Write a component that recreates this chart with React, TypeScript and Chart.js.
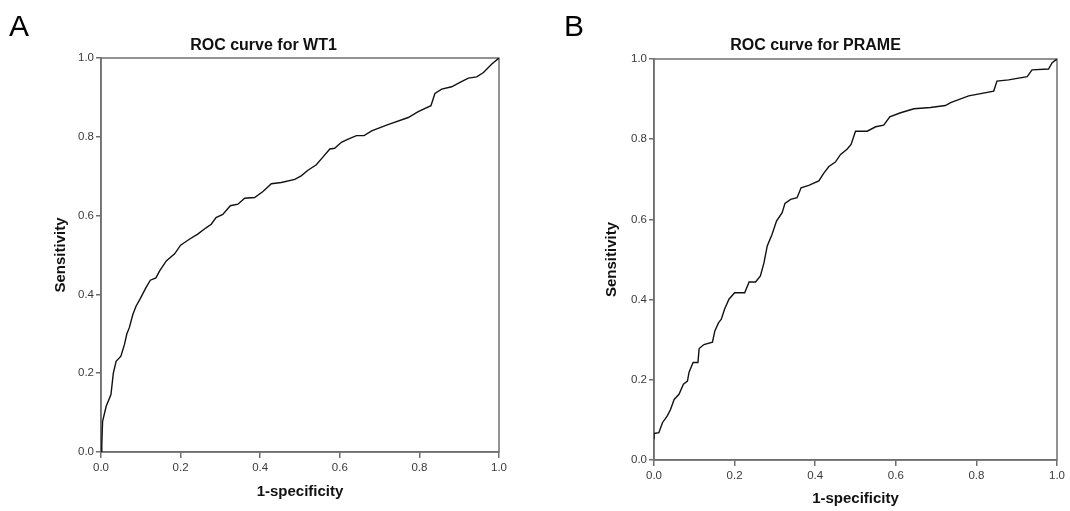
import React, { useEffect, useRef } from "react";
import { Chart, registerables } from "chart.js";

Chart.register(...registerables);

// Panel A: ROC curve for WT1 (1-specificity, sensitivity)
const fprA = [
  0, 0.002, 0.004, 0.013, 0.025, 0.031, 0.038, 0.05, 0.059, 0.065, 0.071, 0.08, 0.088, 0.099,
  0.113, 0.124, 0.138, 0.147, 0.164, 0.185, 0.2, 0.222, 0.243, 0.264, 0.277, 0.289, 0.306,
  0.325, 0.344, 0.361, 0.386, 0.407, 0.428, 0.453, 0.487, 0.503, 0.52, 0.541, 0.558, 0.575,
  0.587, 0.604, 0.621, 0.642, 0.661, 0.68, 0.721, 0.772, 0.797, 0.829, 0.839, 0.856, 0.881,
  0.902, 0.923, 0.944, 0.961, 0.982, 1,
];
const tprA = [
  0, 0.02, 0.078, 0.116, 0.146, 0.2, 0.23, 0.243, 0.273, 0.3, 0.315, 0.349, 0.37, 0.39,
  0.417, 0.436, 0.442, 0.459, 0.485, 0.503, 0.525, 0.54, 0.553, 0.569, 0.578, 0.595, 0.603,
  0.625, 0.629, 0.644, 0.646, 0.661, 0.681, 0.684, 0.692, 0.701, 0.715, 0.729, 0.749, 0.769,
  0.771, 0.786, 0.794, 0.803, 0.803, 0.815, 0.831, 0.849, 0.864, 0.879, 0.91, 0.921, 0.927,
  0.938, 0.949, 0.952, 0.963, 0.985, 1,
];

// Panel B: ROC curve for PRAME
const fprB = [
  0, 0, 0.012, 0.021, 0.033, 0.041, 0.05, 0.062, 0.073, 0.083, 0.087, 0.097, 0.109, 0.112,
  0.124, 0.145, 0.151, 0.16, 0.167, 0.175, 0.186, 0.2, 0.225, 0.236, 0.252, 0.264, 0.273,
  0.281, 0.293, 0.304, 0.318, 0.325, 0.339, 0.355, 0.365, 0.384, 0.409, 0.421, 0.434, 0.45,
  0.463, 0.479, 0.489, 0.5, 0.529, 0.55, 0.57, 0.585, 0.612, 0.645, 0.686, 0.723, 0.736,
  0.781, 0.843, 0.851, 0.88, 0.926, 0.938, 0.979, 0.988, 1,
];
const tprB = [
  0.052, 0.066, 0.068, 0.093, 0.11, 0.126, 0.151, 0.164, 0.189, 0.197, 0.219, 0.243, 0.243, 0.278,
  0.288, 0.294, 0.322, 0.342, 0.351, 0.376, 0.401, 0.417, 0.417, 0.444, 0.444, 0.459, 0.492,
  0.534, 0.563, 0.596, 0.617, 0.64, 0.65, 0.654, 0.679, 0.685, 0.696, 0.715, 0.732, 0.743,
  0.762, 0.775, 0.787, 0.82, 0.82, 0.831, 0.835, 0.856, 0.866, 0.876, 0.879, 0.884, 0.891,
  0.908, 0.92, 0.945, 0.948, 0.956, 0.973, 0.975, 0.991, 1,
];

const tickStep = 0.2;
const titleA = "ROC curve for WT1";
const titleB = "ROC curve for PRAME";
const xTitle = "1-specificity";
const yTitle = "Sensitivity";

const FONT = 'Arial, "Liberation Sans", Helvetica, sans-serif';
const AXIS_COLOR = "#6f6f6f";

const framePlugin = {
  id: "frame",
  beforeDatasetsDraw(chart: any) {
    const { ctx, chartArea } = chart;
    const { left, top, right, bottom } = chartArea;
    ctx.save();
    ctx.strokeStyle = AXIS_COLOR;
    ctx.lineWidth = 1.5;
    ctx.strokeRect(left, top, right - left, bottom - top);
    ctx.restore();
  },
};

type PanelLayout = {
  padSide: number;
  yWidth: number;
  xHeight: number;
  yTitlePad: number;
  xTitlePad: number;
  titleTop: number;
  titleBottom: number;
};

function makeConfig(fpr: number[], tpr: number[], title: string, L: PanelLayout): any {
  const points = fpr.map((x, i) => ({ x, y: tpr[i] }));
  const tickFont = { family: FONT, size: 11.5 };
  const axisTitleFont = { family: FONT, size: 15, weight: "bold" as const };
  const grid = {
    display: true,
    drawOnChartArea: false,
    drawTicks: true,
    tickLength: 5,
    color: AXIS_COLOR,
    lineWidth: 1.5,
  };
  const border = { display: true, color: AXIS_COLOR, width: 1.5 };
  return {
    type: "line",
    data: {
      datasets: [
        {
          data: points,
          borderColor: "#111111",
          borderWidth: 1.4,
          pointRadius: 0,
          fill: false,
          tension: 0,
        },
      ],
    },
    options: {
      animation: false,
      responsive: false,
      events: [],
      layout: { padding: { left: L.padSide, right: L.padSide, top: 0, bottom: 0 } },
      plugins: {
        legend: { display: false },
        tooltip: { enabled: false },
        title: {
          display: true,
          text: title,
          color: "#111111",
          font: { family: FONT, size: 16, weight: "bold" },
          padding: { top: L.titleTop, bottom: L.titleBottom },
        },
      },
      scales: {
        x: {
          type: "linear",
          min: 0,
          max: 1,
          ticks: {
            stepSize: tickStep,
            font: tickFont,
            color: "#3a3a3a",
            padding: 3,
            maxRotation: 0,
            callback: (v: any) => Number(v).toFixed(1),
          },
          grid: { ...grid, tickLength: 6 },
          border,
          title: {
            display: true,
            text: xTitle,
            color: "#111111",
            font: axisTitleFont,
            padding: { top: 0, bottom: L.xTitlePad },
          },
          afterFit: (s: any) => {
            s.height = L.xHeight;
          },
        },
        y: {
          type: "linear",
          min: 0,
          max: 1,
          ticks: {
            stepSize: tickStep,
            font: tickFont,
            color: "#3a3a3a",
            padding: 2,
            callback: (v: any) => Number(v).toFixed(1),
          },
          grid,
          border,
          title: {
            display: true,
            text: yTitle,
            color: "#111111",
            font: axisTitleFont,
            padding: { top: L.yTitlePad, bottom: 0 },
          },
          afterFit: (s: any) => {
            s.width = L.yWidth;
          },
        },
      },
    },
    plugins: [framePlugin],
  };
}

function Panel(props: {
  left: number;
  width: number;
  fpr: number[];
  tpr: number[];
  title: string;
  layout: PanelLayout;
}) {
  const ref = useRef<HTMLCanvasElement | null>(null);
  useEffect(() => {
    if (!ref.current) return;
    const chart = new Chart(ref.current, makeConfig(props.fpr, props.tpr, props.title, props.layout));
    return () => chart.destroy();
  }, []);
  return (
    <div style={{ position: "absolute", left: props.left, top: 0, width: props.width, height: 511 }}>
      <canvas ref={ref} width={props.width} height={511} style={{ display: "block" }} />
    </div>
  );
}

const layoutA: PanelLayout = {
  padSide: 28,
  yWidth: 73,
  xHeight: 59,
  yTitlePad: 23.5,
  xTitlePad: 10,
  titleTop: 36,
  titleBottom: 2.8,
};
const layoutB: PanelLayout = {
  padSide: 10,
  yWidth: 81,
  xHeight: 51,
  yTitlePad: 30,
  xTitlePad: 3,
  titleTop: 36,
  titleBottom: 3.8,
};

export default function App() {
  const letter: React.CSSProperties = {
    position: "absolute",
    top: 11,
    fontFamily: FONT,
    fontSize: 30,
    lineHeight: 1,
    color: "#000",
  };
  return (
    <div style={{ position: "absolute", left: 0, top: 0, width: 1070, height: 511, background: "#fff" }}>
      <Panel left={0} width={527} fpr={fprA} tpr={tprA} title={titleA} layout={layoutA} />
      <Panel left={563} width={505} fpr={fprB} tpr={tprB} title={titleB} layout={layoutB} />
      <div style={{ ...letter, left: 9 }}>A</div>
      <div style={{ ...letter, left: 564 }}>B</div>
    </div>
  );
}
